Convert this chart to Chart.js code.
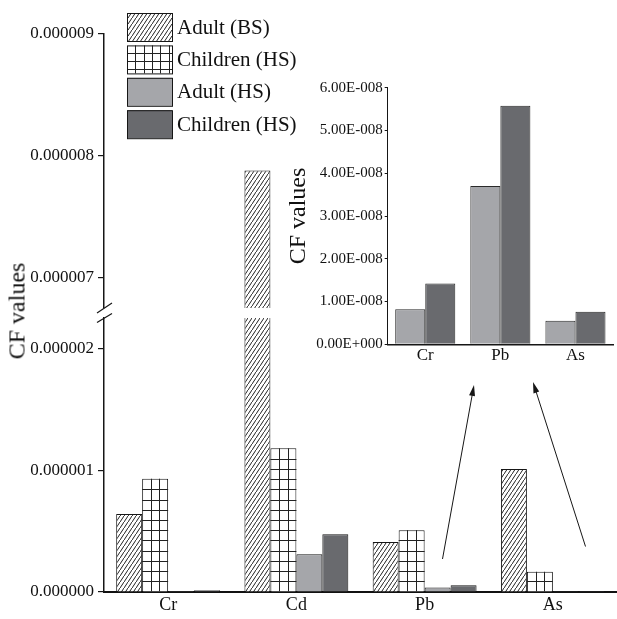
<!DOCTYPE html>
<html>
<head>
<meta charset="utf-8">
<script src="https://cdn.jsdelivr.net/npm/chart.js@4.4.1/dist/chart.umd.min.js"></script>
<style>
  html, body { margin: 0; padding: 0; background: #fff; overflow: hidden; }
  #wrap { position: relative; width: 617px; height: 619px; }
  #wrap canvas { position: absolute; left: 0; top: 0; }
  #ytitle {
    position: absolute; left: 17px; top: 311px;
    transform: translate(-50%, -50%) rotate(-90deg);
    font: 24px "Liberation Serif", "Times New Roman", serif; color: #111; white-space: nowrap;
  }
</style>
</head>
<body>
<div id="wrap">
  <canvas id="upper" width="617" height="619"></canvas>
  <canvas id="lower" width="617" height="619"></canvas>
  <canvas id="inset" width="617" height="619"></canvas>
  <div id="ytitle">CF values</div>
</div>
<script>
// data
const categories = ["Cr", "Cd", "Pb", "As"];
const seriesLabels = ["Adult (BS)", "Children (HS)", "Adult (HS)", "Children (HS)"];
const adultBS = [0.64e-6, 7.88e-6, 0.41e-6, 1.01e-6];
const childBS = [0.93e-6, 1.18e-6, 0.508e-6, 0.166e-6];
const adultHS = [0.82e-8, 0.31e-6, 3.7e-8, 0.55e-8];
const childHS = [1.42e-8, 0.475e-6, 5.58e-8, 0.76e-8];

const upperRange = [6.75e-6, 9e-6];
const lowerRange = [0, 2.25e-6];
const upperTicks = [7e-6, 8e-6, 9e-6];
const lowerTicks = [0, 1e-6, 2e-6];

const insetCategories = ["Cr", "Pb", "As"];
const insetRange = [0, 6e-8];
const insetTicks = [0, 1e-8, 2e-8, 3e-8, 4e-8, 5e-8, 6e-8];

const FONT = '"Liberation Serif", "Times New Roman", serif';
Chart.defaults.font.family = FONT;
Chart.defaults.color = "#111";
Chart.defaults.animation = false;
Chart.defaults.events = [];

const LIGHT = "#a5a6aa", DARK = "#696a6e", INK = "#161616";

function hatch(ctx) {
  const c = document.createElement("canvas");
  c.width = 4; c.height = 6;
  const g = c.getContext("2d");
  g.fillStyle = "#fff"; g.fillRect(0, 0, 4, 6);
  g.strokeStyle = "#222"; g.lineWidth = 1;
  g.beginPath(); g.moveTo(-1, 7.5); g.lineTo(5, -1.5); g.stroke();
  return ctx.createPattern(c, "repeat");
}

function mainDatasets(ctx) {
  const common = { borderColor: INK, borderWidth: 1, clip: 0 };
  return [
    { label: seriesLabels[0], data: adultBS, backgroundColor: hatch(ctx), ...common },
    { label: seriesLabels[1], data: childBS, backgroundColor: "#fff", cells: true, ...common },
    { label: seriesLabels[2], data: adultHS, backgroundColor: LIGHT, ...common },
    { label: seriesLabels[3], data: childHS, backgroundColor: DARK, ...common }
  ];
}

// grid cells for the "Children" bars, drawn on top of the library's bars
const cellPlugin = {
  id: "cells",
  afterDatasetDraw(chart, args) {
    const ds = chart.data.datasets[args.index];
    if (!ds.cells) return;
    const { ctx, chartArea: a } = chart;
    ctx.save();
    ctx.beginPath(); ctx.rect(a.left, a.top, a.right - a.left, a.bottom - a.top); ctx.clip();
    ctx.strokeStyle = "#222"; ctx.lineWidth = 1;
    args.meta.data.forEach(bar => {
      const { x, y, base, width } = bar.getProps(["x", "y", "base", "width"], true);
      const left = x - width / 2, top = Math.min(y, base);
      ctx.beginPath();
      for (let k = 1; k < 3; k++) {
        const lx = Math.round(left + width * k / 3) + 0.5;
        ctx.moveTo(lx, top); ctx.lineTo(lx, base);
      }
      for (let yy = base - 10.2; yy > top + 2; yy -= 10.2) {
        const ly = Math.round(yy) + 0.5;
        ctx.moveTo(left, ly); ctx.lineTo(left + width, ly);
      }
      ctx.stroke();
    });
    ctx.restore();
  }
};

const legendPlugin = {
  id: "boxLegend",
  afterDraw(chart) {
    const ctx = chart.ctx;
    chart.data.datasets.forEach((ds, i) => {
      const x = 127, y = 13 + i * 32.4, w = 45, h = 28;
      ctx.save();
      ctx.fillStyle = ds.backgroundColor;
      ctx.fillRect(x, y, w, h);
      if (ds.cells) {
        ctx.strokeStyle = "#222"; ctx.lineWidth = 1;
        ctx.beginPath();
        for (let gx = x + 8.3; gx < x + w - 1; gx += 8.3) { ctx.moveTo(Math.round(gx) + 0.5, y); ctx.lineTo(Math.round(gx) + 0.5, y + h); }
        for (let gy = y + 7.3; gy < y + h - 1; gy += 8.3) { ctx.moveTo(x, Math.round(gy) + 0.5); ctx.lineTo(x + w, Math.round(gy) + 0.5); }
        ctx.stroke();
      }
      ctx.strokeStyle = INK; ctx.lineWidth = 1;
      ctx.strokeRect(x + 0.5, y + 0.5, w, h);
      ctx.fillStyle = "#111";
      ctx.font = "21px " + FONT;
      ctx.textBaseline = "middle";
      ctx.fillText(ds.label, x + w + 5, y + h / 2 + 1);
      ctx.restore();
    });
  }
};

// axis break marks and the two pointer arrows
const decoPlugin = {
  id: "deco",
  afterDraw(chart) {
    const ctx = chart.ctx;
    ctx.save();
    ctx.strokeStyle = INK; ctx.fillStyle = INK; ctx.lineWidth = 1.2;
    [[97, 313, 112, 303], [97, 322.5, 112, 313.5]].forEach(([x1, y1, x2, y2]) => {
      ctx.beginPath(); ctx.moveTo(x1, y1); ctx.lineTo(x2, y2); ctx.stroke();
    });
    ctx.lineWidth = 1;
    [[442.5, 559, 474, 385], [585.5, 546.5, 533, 382]].forEach(([x1, y1, x2, y2]) => {
      const ang = Math.atan2(y2 - y1, x2 - x1);
      ctx.beginPath(); ctx.moveTo(x1, y1); ctx.lineTo(x2 - 8 * Math.cos(ang), y2 - 8 * Math.sin(ang)); ctx.stroke();
      ctx.beginPath();
      ctx.moveTo(x2, y2);
      ctx.lineTo(x2 - 11 * Math.cos(ang) + 3 * Math.sin(ang), y2 - 11 * Math.sin(ang) - 3 * Math.cos(ang));
      ctx.lineTo(x2 - 11 * Math.cos(ang) - 3 * Math.sin(ang), y2 - 11 * Math.sin(ang) + 3 * Math.cos(ang));
      ctx.closePath(); ctx.fill();
    });
    ctx.restore();
  }
};

function yAxis(range, tickValues) {
  return {
    min: range[0], max: range[1],
    afterBuildTicks: s => { s.ticks = tickValues.map(v => ({ value: v })); },
    afterFit: s => { s.width = 104; },
    ticks: { font: { size: 17 }, padding: 4, callback: v => Number(v).toFixed(6) },
    grid: { display: true, drawOnChartArea: false, drawTicks: true, tickLength: 6, color: INK, lineWidth: 1.2 },
    border: { display: true, color: INK, width: 1.5 }
  };
}

const barOpts = { categoryPercentage: 0.81, barPercentage: 1 };

const upperCtx = document.getElementById("upper").getContext("2d");
new Chart(upperCtx, {
  type: "bar",
  data: { labels: categories, datasets: mainDatasets(upperCtx) },
  options: {
    responsive: false,
    datasets: { bar: barOpts },
    layout: { padding: { top: 34, bottom: 311, left: 0, right: 0 } },
    plugins: { legend: { display: false }, tooltip: { enabled: false } },
    scales: {
      x: { display: false },
      y: yAxis(upperRange, upperTicks)
    }
  },
  plugins: [cellPlugin, legendPlugin]
});

const lowerCtx = document.getElementById("lower").getContext("2d");
new Chart(lowerCtx, {
  type: "bar",
  data: { labels: categories, datasets: mainDatasets(lowerCtx) },
  options: {
    responsive: false,
    datasets: { bar: barOpts },
    layout: { padding: { top: 318, bottom: 3, left: 0, right: 0 } },
    plugins: { legend: { display: false }, tooltip: { enabled: false } },
    scales: {
      x: {
        afterFit: s => { s.height = 24; },
        ticks: { font: { size: 18 }, padding: 2 },
        grid: { display: false, drawTicks: false },
        border: { display: true, color: "#111", width: 2 }
      },
      y: yAxis(lowerRange, lowerTicks)
    }
  },
  plugins: [cellPlugin, decoPlugin]
});

function sci(v) {
  if (v === 0) return "0.00E+000";
  const e = Math.floor(Math.log10(Math.abs(v)) + 1e-9);
  const m = v / Math.pow(10, e);
  return m.toFixed(2) + "E" + (e < 0 ? "-" : "+") + String(Math.abs(e)).padStart(3, "0");
}

const pick = arr => insetCategories.map(c => arr[categories.indexOf(c)]);

new Chart(document.getElementById("inset"), {
  type: "bar",
  data: {
    labels: insetCategories,
    datasets: [
      { label: seriesLabels[2], data: pick(adultHS), backgroundColor: LIGHT, borderColor: "#2a2a2a", borderWidth: 1 },
      { label: seriesLabels[3], data: pick(childHS), backgroundColor: DARK, borderColor: "#2a2a2a", borderWidth: 1 }
    ]
  },
  options: {
    responsive: false,
    datasets: { bar: { categoryPercentage: 0.8, barPercentage: 1 } },
    layout: { padding: { top: 87.7, bottom: 254.7, left: 280, right: 4 } },
    plugins: { legend: { display: false }, tooltip: { enabled: false } },
    scales: {
      x: {
        afterFit: s => { s.height = 20; },
        ticks: { font: { size: 17 }, padding: 1 },
        grid: { display: false, drawTicks: false },
        border: { display: true, color: INK, width: 1.5 }
      },
      y: {
        min: insetRange[0], max: insetRange[1],
        afterBuildTicks: s => { s.ticks = insetTicks.map(v => ({ value: v })); },
        afterFit: s => { s.width = 107.7; },
        ticks: { font: { size: 15 }, padding: 2, callback: v => sci(v) },
        grid: { display: true, drawOnChartArea: false, drawTicks: true, tickLength: 3, color: INK },
        border: { display: true, color: INK, width: 1 },
        title: { display: true, text: "CF values", font: { size: 24 }, padding: { top: 4, bottom: 0 } }
      }
    }
  }
});
</script>
</body>
</html>
